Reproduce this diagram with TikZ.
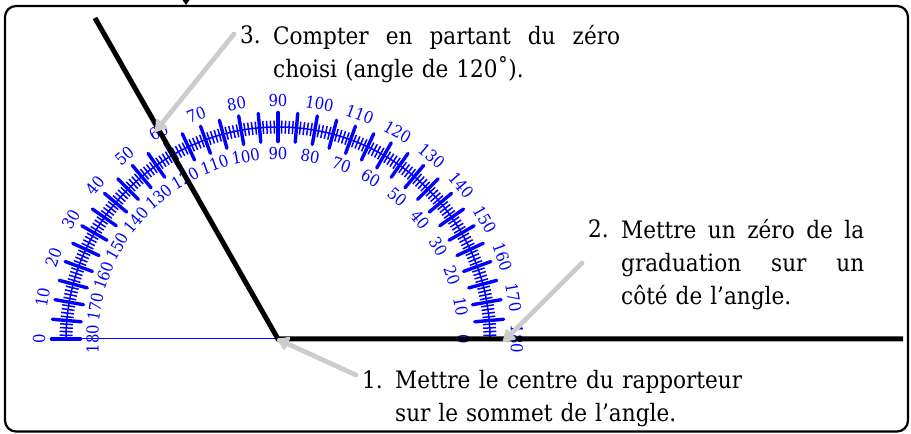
\documentclass[tikz,border=0pt]{standalone}
\usepackage{fontspec}
\setmainfont{DejaVu Serif Condensed}
\usetikzlibrary{arrows.meta}
\definecolor{callout}{gray}{0.8}
\newcommand{\stepfont}{\fontsize{24}{33}\selectfont}
\newcommand{\fullline}[2]{\leavevmode\hbox to #1{#2}}
\tikzset{
  x=1pt,y=1pt,
  framebox/.style={draw=black,line width=2.2pt,rounded corners=11pt},
  side/.style={draw=black,line width=5pt},
  callarrow/.style={draw=callout,line width=4.8pt,line cap=round,-{Latex[length=14pt,width=18pt,round]}},
  majortick/.style={draw=blue,line width=3.4pt,line cap=round},
  minortick/.style={draw=blue,line width=1.5pt},
  graduation/.style={text=blue,inner sep=0pt,font=\fontsize{16.5}{17}\selectfont},
  steptext/.style={inner sep=0pt,align=left,font=\stepfont,anchor=north west},
  stepnum/.style={inner sep=0pt,font=\stepfont,anchor=north east}
}
\begin{document}
\begin{tikzpicture}
\useasboundingbox (0,0) rectangle (911,434);
\coordinate (frameSW) at (5,2.5);
\coordinate (frameNE) at (908,428);
\draw[framebox] (frameSW) rectangle (frameNE);
\fill[black] (182.5,434) -- (189.5,434) -- (186,429) -- cycle;
\coordinate (O) at (278,95);
% protractor
\begin{scope}[shift={(O)}]
  \draw[blue,line width=1pt] (-212,0) -- (212,0);
  \draw[blue,line width=1.5pt] (180:212) arc (180:0:212);
  \foreach \a in {0,...,180}{\draw[minortick] (\a:205.5) -- (\a:218.5);}
  \foreach \a in {0,5,...,180}{\draw[majortick] (\a:197.5) -- (\a:226.5);}
  \foreach \v in {0,10,...,180}{
    \pgfmathsetmacro{\ang}{180-\v}
    \pgfmathsetmacro{\rot}{90-\v}
    \pgfmathsetmacro{\irot}{\v-90}
    \node[graduation,rotate=\rot] (outer\v) at (\ang:239) {\v};
    \node[graduation,rotate=\irot] (inner\v) at (\v:185.5) {\v};
  }
\end{scope}
% angle
\coordinate (rayA) at (95,416);
\coordinate (rayB) at (903,95);
\draw[side,line join=miter] (rayA) -- (O) -- (rayB);
% step 3
\node[stepnum] (n3) at (261,409) {3.};
\node[steptext,text width=347pt] (t3) at (273,409) {\fullline{347pt}{Compter\hfill en\hfill partant\hfill du\hfill zéro}\\choisi (angle de 120˚).};
\coordinate (a3s) at (234,400);
\coordinate (a3e) at (155,302);
\draw[callarrow] (a3s) -- (a3e);
% step 2
\node[stepnum] (n2) at (609,215) {2.};
\node[steptext,text width=243pt] (t2) at (621,215) {\fullline{243pt}{Mettre\hfill un\hfill zéro\hfill de\hfill la}\\\fullline{243pt}{graduation\hfill sur\hfill un}\\côté de l’angle.};
\coordinate (a2s) at (582,171);
\coordinate (a2e) at (503,92);
\draw[callarrow] (a2s) -- (a2e);
% step 1
\node[stepnum] (n1) at (383,64) {1.};
\node[steptext,text width=347pt] (t1) at (395,64) {\fullline{347pt}{Mettre\hfill le\hfill centre\hfill du\hfill rapporteur}\\sur le sommet de l’angle.};
\coordinate (a1s) at (356,59);
\coordinate (a1e) at (277,95);
\draw[callarrow] (a1s) -- (a1e);
\end{tikzpicture}
\end{document}
